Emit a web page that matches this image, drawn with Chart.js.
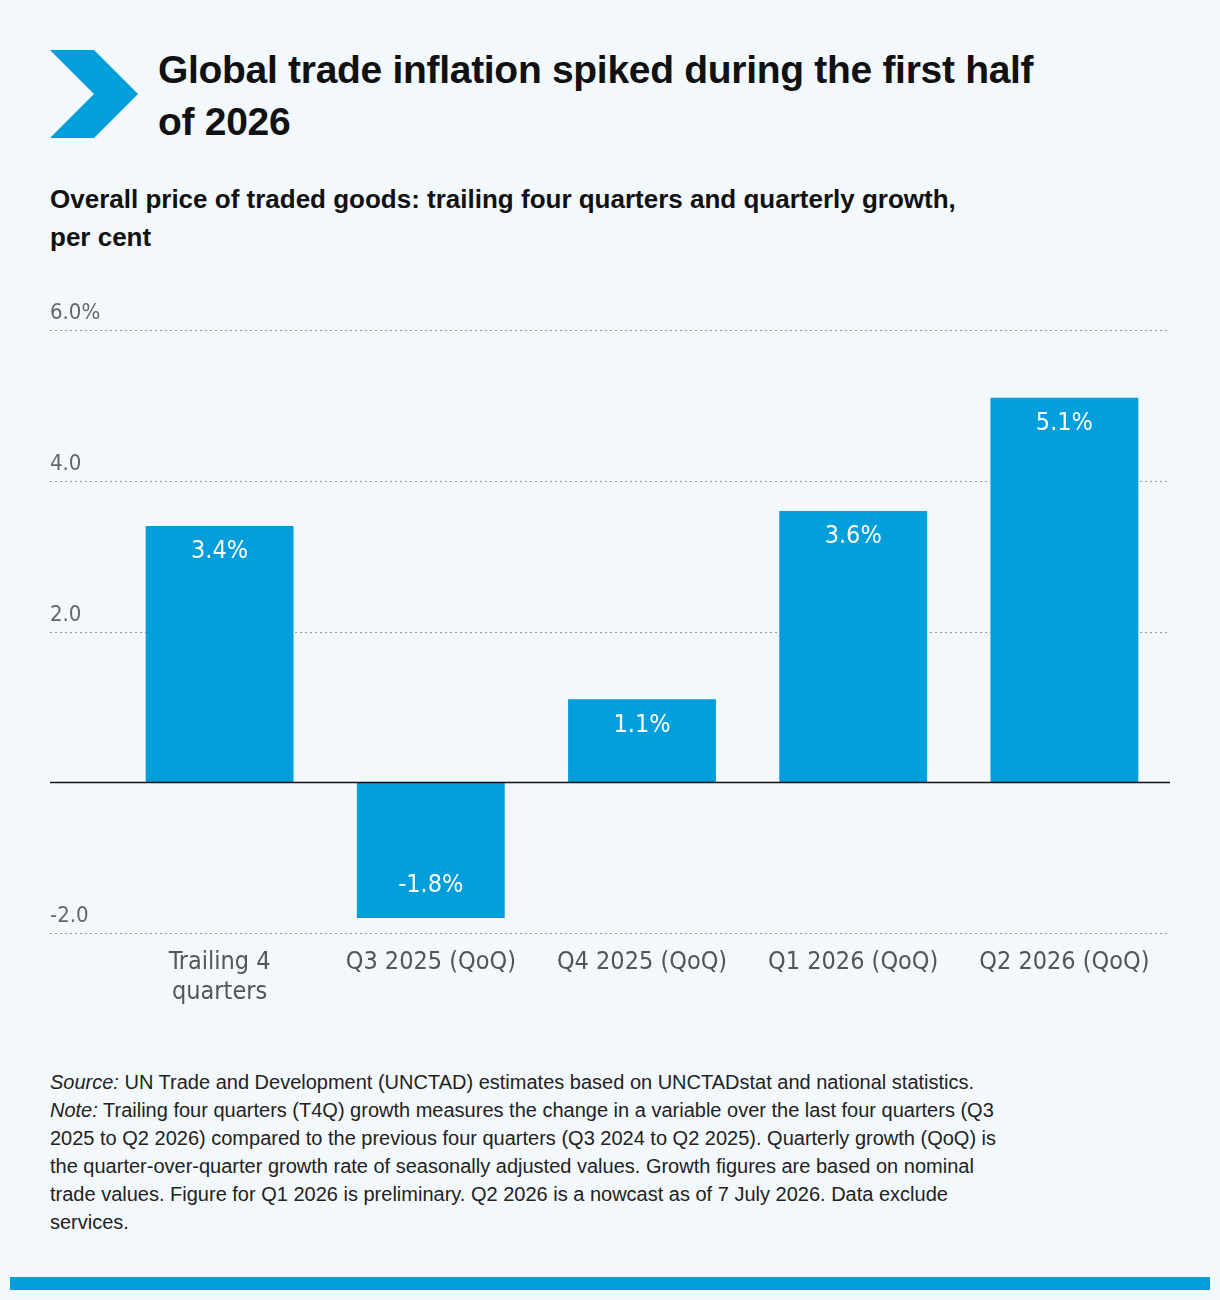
<!DOCTYPE html>
<html><head><meta charset="utf-8">
<script src="https://cdn.jsdelivr.net/npm/chart.js@4"></script>
<style>
body{margin:0;background:#f3f8fc;font-family:"Liberation Sans",Arial,sans-serif;width:1220px;height:1300px;position:relative;overflow:hidden}
#chev{position:absolute;left:50px;top:50px}
h1{position:absolute;left:158px;top:44px;margin:0;width:1040px;font-size:39px;line-height:52px;font-weight:bold;color:#111;letter-spacing:-0.3px}
h2{position:absolute;left:50px;top:180px;margin:0;width:1120px;font-size:26px;line-height:38px;font-weight:bold;color:#111}
#wrap{position:absolute;left:0;top:297px;width:1220px;height:716px}
#foot{position:absolute;left:50px;top:1068px;width:1150px;font-size:20px;line-height:28px;color:#222;white-space:nowrap}
#bar{position:absolute;left:10px;top:1277px;width:1200px;height:13px;background:#009edb}
</style></head><body>
<svg id="chev" width="88" height="88" viewBox="0 0 88 88"><polygon points="0,0 44,0 88,44 44,88 0,88 44,44" fill="#009edb"/></svg>
<h1>Global trade inflation spiked during the first half<br>of 2026</h1>
<h2>Overall price of traded goods: trailing four quarters and quarterly growth,<br>per cent</h2>
<div id="wrap"><canvas id="c"></canvas></div>
<div id="foot"><i>Source:</i> UN Trade and Development (UNCTAD) estimates based on UNCTADstat and national statistics.<br><i>Note:</i> Trailing four quarters (T4Q) growth measures the change in a variable over the last four quarters (Q3<br>2025 to Q2 2026) compared to the previous four quarters (Q3 2024 to Q2 2025). Quarterly growth (QoQ) is<br>the quarter-over-quarter growth rate of seasonally adjusted values. Growth figures are based on nominal<br>trade values. Figure for Q1 2026 is preliminary. Q2 2026 is a nowcast as of 7 July 2026. Data exclude<br>services.</div>
<div id="bar"></div>
<script>
const categories = [['Trailing 4', 'quarters'], 'Q3 2025 (QoQ)', 'Q4 2025 (QoQ)', 'Q1 2026 (QoQ)', 'Q2 2026 (QoQ)'];
const values = [3.4, -1.8, 1.1, 3.6, 5.1];
const tickValues = [6, 4, 2, -2];
const tickLabels = ['6.0%', '4.0', '2.0', '-2.0'];

const narrow = '"Liberation Sans Narrow","DejaVu Sans Condensed","Liberation Sans",sans-serif';

// draws gridlines, y labels above lines, zero line and bar labels
const decor = {
  id: 'decor',
  beforeDatasetsDraw(chart) {
    const {ctx, scales: {y}, chartArea} = chart;
    ctx.save();
    ctx.strokeStyle = '#999';
    ctx.lineWidth = 1;
    ctx.setLineDash([2, 3]);
    ctx.font = '22px ' + narrow;
    ctx.fillStyle = '#666';
    ctx.textBaseline = 'bottom';
    tickValues.forEach((v, i) => {
      const py = Math.round(y.getPixelForValue(v)) + 0.5;
      ctx.beginPath(); ctx.moveTo(50, py); ctx.lineTo(chartArea.right, py); ctx.stroke();
      ctx.fillText(tickLabels[i], 50, py - 6);
    });
    ctx.restore();
  },
  afterDatasetsDraw(chart) {
    const {ctx, scales: {y}, chartArea} = chart;
    ctx.save();
    const py = Math.round(y.getPixelForValue(0)) + 0.5;
    ctx.strokeStyle = '#111'; ctx.lineWidth = 1.5;
    ctx.beginPath(); ctx.moveTo(50, py); ctx.lineTo(chartArea.right, py); ctx.stroke();
    ctx.fillStyle = '#fff';
    ctx.font = '25px ' + narrow;
    ctx.textAlign = 'center';
    ctx.textBaseline = 'middle';
    chart.getDatasetMeta(0).data.forEach((bar, i) => {
      const v = values[i];
      const ly = v >= 0 ? y.getPixelForValue(v) + 26 : y.getPixelForValue(v) - 32;
      ctx.fillText(v.toFixed(1) + '%', bar.x, ly);
    });
    ctx.restore();
  }
};

new Chart(document.getElementById('c'), {
  type: 'bar',
  data: {
    labels: categories,
    datasets: [{ data: values, backgroundColor: '#009edb', barPercentage: 0.7, categoryPercentage: 1 }]
  },
  options: {
    responsive: true, maintainAspectRatio: false, animation: false,
    layout: { padding: { left: 114, right: 50, top: 33, bottom: 0 } },
    plugins: { legend: { display: false }, tooltip: { enabled: false } },
    scales: {
      x: {
        grid: { display: false }, border: { display: false },
        ticks: { color: '#555', font: { family: narrow, size: 25 }, padding: 6, maxRotation: 0 }
      },
      y: { display: false, min: -2, max: 6 }
    }
  },
  plugins: [decor]
});
</script>
</body></html>
